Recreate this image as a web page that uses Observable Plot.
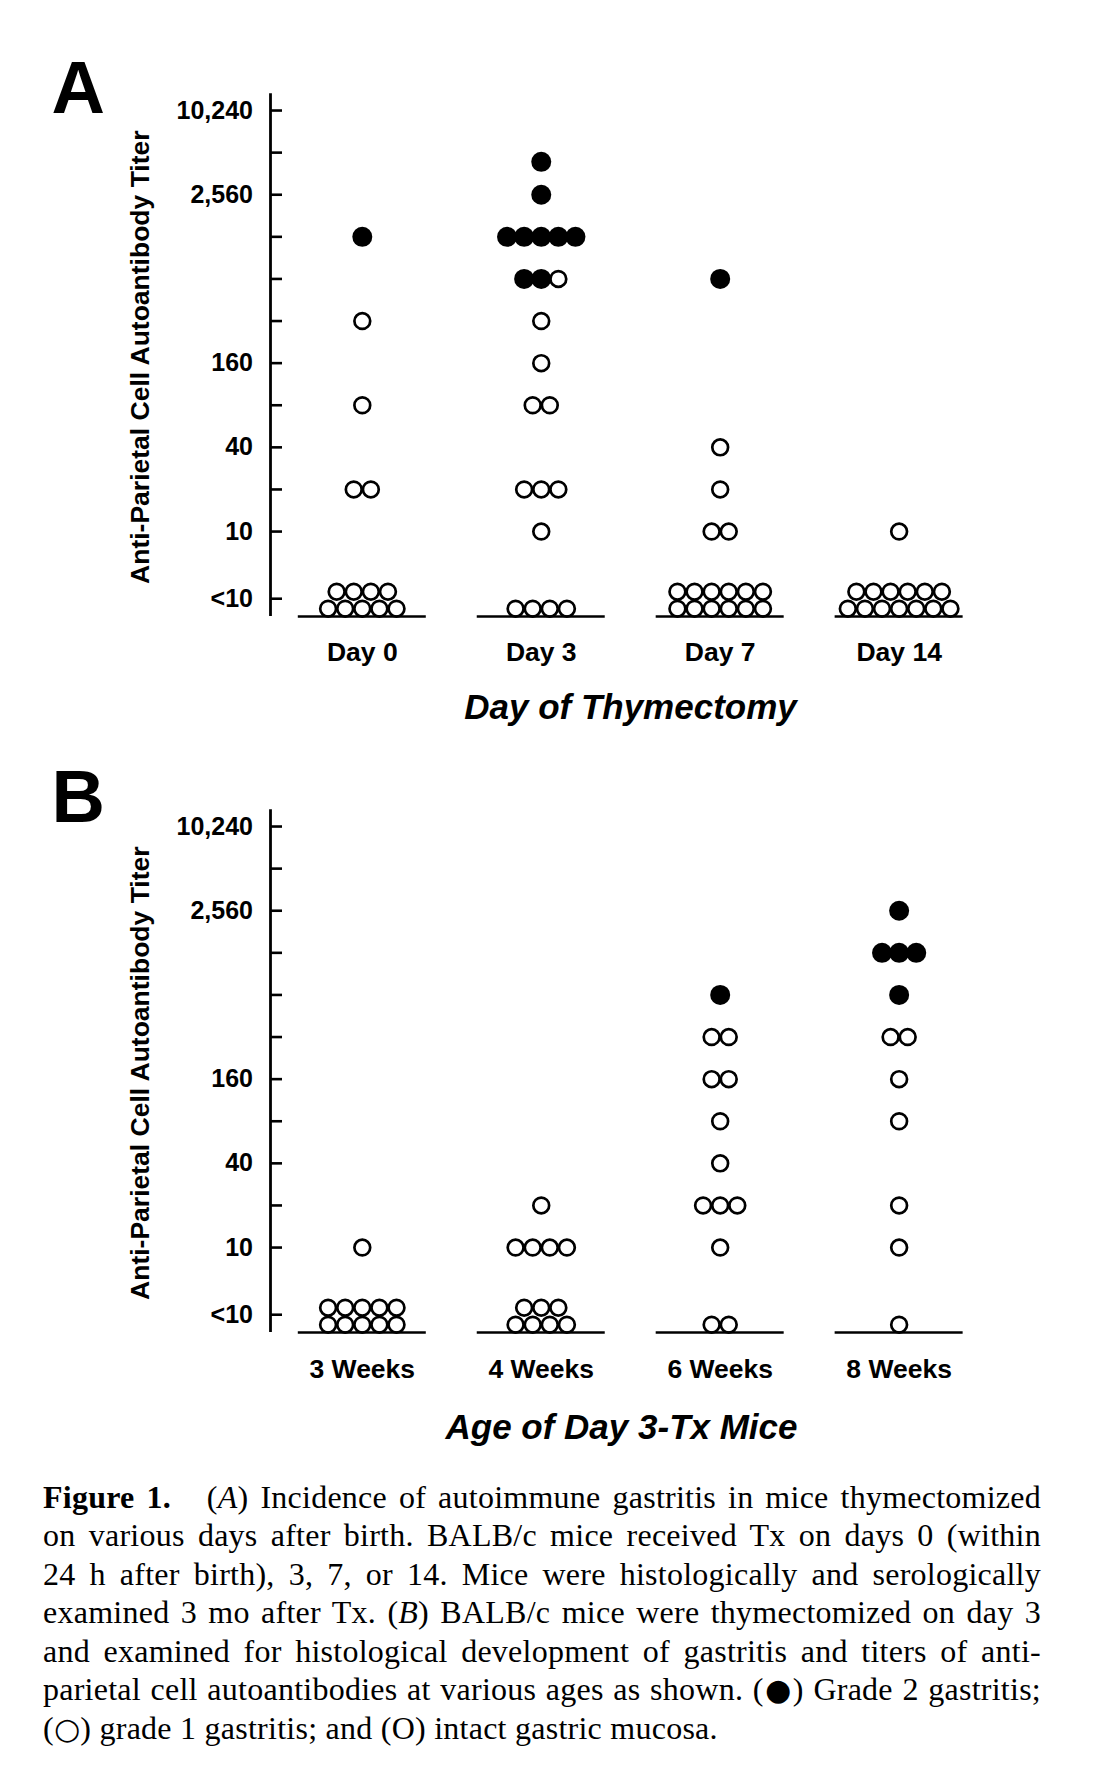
<!DOCTYPE html>
<html><head><meta charset="utf-8">
<script src="https://cdn.jsdelivr.net/npm/d3@7"></script>
<script src="https://cdn.jsdelivr.net/npm/@observablehq/plot@0.6"></script>
<style>
html,body{margin:0;padding:0;background:#fff;}
#page{position:relative;width:1100px;height:1779px;overflow:hidden;background:#fff;}
.panel{position:absolute;left:0;}
#caption{position:absolute;left:43px;top:1478px;width:998px;font-family:"Liberation Serif","Times New Roman",serif;font-size:32px;letter-spacing:0.25px;line-height:38.4px;color:#000;}
#caption .ln{text-align:justify;text-align-last:justify;}
#caption .ln.last{text-align:left;text-align-last:left;}
#caption .sym{font-family:"DejaVu Sans",sans-serif;font-size:30px;}
</style></head>
<body>
<div id="page">
<div id="panelA" class="panel" style="top:40px"></div>
<div id="panelB" class="panel" style="top:755.5px"></div>
<div id="caption">
<div class="ln"><b>Figure 1.</b>&nbsp;&nbsp; (<i>A</i>) Incidence of autoimmune gastritis in mice thymectomized</div>
<div class="ln">on various days after birth. BALB/c mice received Tx on days 0 (within</div>
<div class="ln">24 h after birth), 3, 7, or 14. Mice were histologically and serologically</div>
<div class="ln">examined 3 mo after Tx. (<i>B</i>) BALB/c mice were thymectomized on day 3</div>
<div class="ln">and examined for histological development of gastritis and titers of anti-</div>
<div class="ln">parietal cell autoantibodies at various ages as shown. (<span class="sym">●</span>) Grade 2 gastritis;</div>
<div class="ln last">(<span class="sym">○</span>) grade 1 gastritis; and (O) intact gastric mucosa.</div>
</div>
</div>
<script>
// ---------------- DATA ----------------
// y-axis tick values and labels (titer, 2-fold dilutions); LT10 is the axis position standing for "<10"
const LT10 = 3.31;
const yMajorTicks  = [LT10, 10, 40, 160, 640, 2560, 10240];
const yMajorLabels = ["<10", "10", "40", "160", "640", "2,560", "10,240"];
const yMinorTicks  = [20, 80, 320, 1280, 5120];
const yLabel = "Anti-Parietal Cell Autoantibody Titer";

// Each row: [titer, filled dots (grade 2 gastritis), open dots (grade 1 / intact)]
// "<10" = row resting on the baseline, "<10 (2nd row)" = row stacked on top of it
const dayGroups = ["Day 0", "Day 3", "Day 7", "Day 14"];
const day0  = [[1280,1,0],[320,0,1],[80,0,1],[20,0,2],["<10",0,5],["<10 (2nd row)",0,4]];
const day3  = [[4400,1,0],[2560,1,0],[1280,5,0],[640,2,1],[320,0,1],[160,0,1],[80,0,2],[20,0,3],[10,0,1],["<10",0,4]];
const day7  = [[640,1,0],[40,0,1],[20,0,1],[10,0,2],["<10",0,6],["<10 (2nd row)",0,6]];
const day14 = [[10,0,1],["<10",0,7],["<10 (2nd row)",0,6]];
const titleA = "Day of Thymectomy";

const weekGroups = ["3 Weeks", "4 Weeks", "6 Weeks", "8 Weeks"];
const week3 = [[10,0,1],["<10",0,5],["<10 (2nd row)",0,5]];
const week4 = [[20,0,1],[10,0,4],["<10",0,4],["<10 (2nd row)",0,3]];
const week6 = [[640,1,0],[320,0,2],[160,0,2],[80,0,1],[40,0,1],[20,0,3],[10,0,1],["<10",0,2]];
const week8 = [[2560,1,0],[1280,3,0],[640,1,0],[320,0,2],[160,0,1],[80,0,1],[20,0,1],[10,0,1],["<10",0,1]];
const titleB = "Age of Day 3-Tx Mice";

// ---------------- LAYOUT ----------------
const W = 1100, H = 700, MT = 53.3, MB = 124, ML = 270, MR = 94;
const X_DOMAIN = [-0.513, 3.6];
const Y_DOMAIN = [2.47, 13486];
const PX = (X_DOMAIN[1] - X_DOMAIN[0]) / (W - ML - MR); // x units per pixel
const DOT_STEP = 17.1 * PX, BASE_HALF = 64 * PX, TICK_LEN = 12 * PX;
const X0 = X_DOMAIN[0];

function layoutDots(groups, perGroup) {
  const out = [];
  perGroup.forEach((rows, gi) => {
    for (const [titer, nFilled, nOpen] of rows) {
      const n = nFilled + nOpen;
      const tier = titer === "<10" ? "low" : titer === "<10 (2nd row)" ? "high" : "main";
      for (let j = 0; j < n; ++j) {
        out.push({group: groups[gi], gi, tier, filled: j < nFilled,
                  slot: j - (n - 1) / 2, value: tier === "main" ? titer : LT10});
      }
    }
  });
  return out;
}

const labelOf = new Map(yMajorTicks.map((v, i) => [v, yMajorLabels[i]]));
const FONT = "'Liberation Sans', Arial, Helvetica, sans-serif";

function panel(groups, perGroup, title, letter, cfg) {
  const dots = layoutDots(groups, perGroup);
  const dotMarks = [];
  const tierDy = {main: 0, low: 10, high: -7};
  for (const tier of ["main", "low", "high"]) {
    const sub = dots.filter(d => d.tier === tier);
    dotMarks.push(Plot.dot(sub.filter(d => d.filled), {
      x: d => d.gi + d.slot * DOT_STEP, y: "value", r: 10, fill: "black", stroke: "none", dy: tierDy[tier]}));
    dotMarks.push(Plot.dot(sub.filter(d => !d.filled), {
      x: d => d.gi + d.slot * DOT_STEP, y: "value", r: 7.9, fill: "none", stroke: "black", strokeWidth: 2.7, dy: tierDy[tier]}));
  }
  return Plot.plot({
    width: W, height: H,
    marginTop: MT, marginBottom: MB, marginLeft: ML, marginRight: MR,
    style: {fontFamily: FONT, fontWeight: "bold", fontSize: "25px", color: "black", background: "white", overflow: "visible"},
    x: {domain: X_DOMAIN},
    y: {type: "log", domain: Y_DOMAIN},
    marks: [
      Plot.axisY(yMajorTicks, {tickSize: 0, tickPadding: 17.5, tickFormat: d => labelOf.get(d), fontSize: 25, label: null}),
      Plot.axisX(groups.map((g, i) => i), {tickSize: 0, tickPadding: cfg.catPad, tickFormat: i => groups[i], fontSize: 26.5, label: null}),
      Plot.ruleX([X0], {stroke: "black", strokeWidth: 2.8}),
      Plot.ruleY(yMajorTicks.concat(yMinorTicks), {y: d => d, x1: X0, x2: X0 + TICK_LEN, stroke: "black", strokeWidth: 2.6}),
      Plot.ruleY(groups.map((g, i) => i), {y: () => Y_DOMAIN[0], x1: i => i - BASE_HALF, x2: i => i + BASE_HALF, stroke: "black", strokeWidth: 2.6}),
      ...dotMarks,
      Plot.text([yLabel], {frameAnchor: "left", textAnchor: "middle", rotate: -90, dx: -130, dy: 2, fontSize: 26.5, fontWeight: "bold"}),
      Plot.text([title], {frameAnchor: "bottom", textAnchor: "middle", lineAnchor: "bottom", dx: cfg.titleDx, dy: cfg.titleDy, fontSize: 35, fontStyle: "italic", fontWeight: "bold"}),
      Plot.text([letter], {frameAnchor: "top-left", textAnchor: "start", lineAnchor: "bottom", dx: -219, dy: cfg.letterDy, fontSize: 74, fontWeight: "bold"})
    ]
  });
}

document.getElementById("panelA").append(
  panel(dayGroups, [day0, day3, day7, day14], titleA, "A", {catPad: 25.7, titleDx: -8, titleDy: 102, letterDy: 18.7}));
document.getElementById("panelB").append(
  panel(weekGroups, [week3, week4, week6, week8], titleB, "B", {catPad: 27, titleDx: -17, titleDy: 106.5, letterDy: 12.2}));
</script>
</body></html>
